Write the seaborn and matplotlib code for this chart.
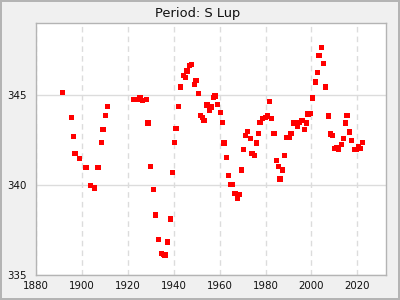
import matplotlib
matplotlib.use("Agg")
import matplotlib.pyplot as plt
import seaborn as sns
import pandas as pd
from matplotlib.ticker import MultipleLocator

years = [1891.5, 1895.4, 1896.3, 1897.1, 1898.9, 1901.9, 1903.7, 1905.4, 1907.1, 1908.5,
         1909.3, 1910.2, 1911.1, 1922.4, 1923.9, 1925.4, 1926.3, 1928.1, 1928.9, 1929.8,
         1931.1, 1932.0, 1933.3, 1934.6, 1935.5, 1936.3, 1937.2, 1938.5, 1939.4, 1940.3,
         1941.1, 1942.0, 1942.9, 1944.2, 1945.1, 1945.9, 1946.8, 1947.7, 1949.0, 1949.8,
         1950.7, 1951.6, 1952.5, 1953.3, 1954.6, 1955.5, 1956.4, 1957.3, 1958.1, 1959.0,
         1960.3, 1961.2, 1962.0, 1962.9, 1963.8, 1964.7, 1965.5, 1966.8, 1967.7, 1968.6,
         1969.5, 1970.3, 1971.2, 1972.1, 1973.4, 1974.2, 1975.1, 1976.0, 1976.9, 1977.7,
         1978.6, 1979.9, 1980.8, 1981.7, 1982.5, 1983.8, 1984.7, 1985.6, 1986.4, 1987.3,
         1988.2, 1989.1, 1990.4, 1991.2, 1992.1, 1993.0, 1993.9, 1994.7, 1996.0, 1996.9,
         1997.8, 1998.6, 1999.5, 2000.4, 2001.7, 2002.6, 2003.4, 2004.3, 2005.2, 2006.1,
         2007.4, 2008.2, 2009.1, 2010.0, 2010.9, 2011.7, 2013.0, 2013.9, 2014.8, 2015.6,
         2016.5, 2017.4, 2018.7, 2019.6, 2020.4, 2021.3, 2022.2]
periods = [345.15, 343.76, 342.70, 341.76, 341.48, 340.98, 339.98, 339.82, 340.98, 342.37,
           343.09, 343.87, 344.37, 344.76, 344.76, 344.87, 344.70, 344.76, 343.43, 341.04,
           339.76, 338.32, 336.98, 336.20, 336.15, 336.10, 336.82, 338.10, 340.70, 342.37,
           343.15, 344.37, 345.43, 346.09, 345.98, 346.32, 346.65, 346.70, 345.59, 345.80,
           345.09, 343.87, 343.76, 343.59, 344.43, 344.15, 344.32, 344.87, 344.93, 344.48,
           344.04, 343.48, 342.32, 341.54, 340.54, 340.04, 340.04, 339.54, 339.26, 339.48,
           340.82, 341.98, 342.76, 342.98, 342.59, 341.76, 341.65, 342.32, 342.87, 343.48,
           343.70, 343.76, 343.82, 344.65, 343.70, 342.87, 341.37, 341.04, 340.32, 340.82,
           341.65, 342.65, 342.65, 342.87, 343.43, 343.43, 343.26, 343.48, 343.59, 343.09,
           343.43, 343.93, 343.98, 344.82, 345.71, 346.26, 347.20, 347.65, 346.76, 345.43,
           343.82, 342.82, 342.76, 342.04, 342.09, 341.98, 342.26, 342.59, 343.43, 343.87,
           342.93, 342.48, 341.98, 341.98, 342.15, 342.04, 342.37]

title = "Period: S Lup"

df = pd.DataFrame({"year": years, "period": periods})

sns.set_style("white")
plt.rcParams['font.family'] = ['DejaVu Sans']

fig = plt.figure(figsize=(4, 3), dpi=100, facecolor="#f0f0f0",
                 edgecolor="#b4b4b4", linewidth=1.5)
ax = fig.add_axes([0.09, 0.0833, 0.874, 0.84])
ax.set_facecolor("white")

sns.scatterplot(data=df, x="year", y="period", ax=ax, marker="s", s=16,
                color="#ff0000", edgecolor="none", linewidth=0, zorder=3)

ax.set_xlim(1880, 2032.3)
ax.set_ylim(335, 349)
ax.xaxis.set_major_locator(MultipleLocator(20))
ax.xaxis.set_minor_locator(MultipleLocator(10))
ax.yaxis.set_major_locator(MultipleLocator(5))
ax.yaxis.set_minor_locator(MultipleLocator(1))

ax.grid(False)
ax.xaxis.grid(True, which="major", color="#dcdcdc", linestyle=(0, (4, 3)), linewidth=1)
ax.yaxis.grid(True, which="major", color="#dcdcdc", linestyle="-", linewidth=1)
ax.set_axisbelow(True)

ax.tick_params(axis="both", which="major", direction="in", length=3.5, width=1,
               color="#222222", labelsize=7.4, labelcolor="#111111")
ax.tick_params(axis="both", which="minor", direction="in", length=2.2, width=1,
               color="#222222")
ax.tick_params(axis="y", which="major", pad=7)
ax.tick_params(axis="x", which="major", pad=4)

for sp in ax.spines.values():
    sp.set_color("#b4b4b4")
    sp.set_linewidth(1)

ax.set_xlabel("")
ax.set_ylabel("")
fig.suptitle(title, x=0.495, y=0.975, fontsize=9.4, color="#111111")

fig.savefig("out.png", dpi=100, facecolor=fig.get_facecolor(), edgecolor=fig.get_edgecolor())
